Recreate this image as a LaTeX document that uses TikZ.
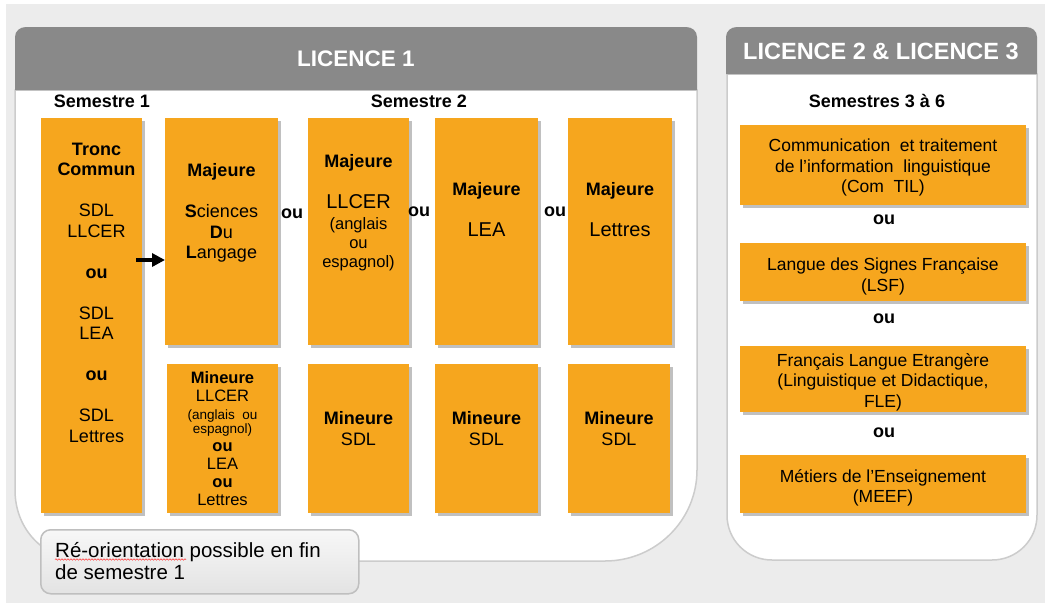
\documentclass[tikz,border=0pt]{standalone}
\usepackage{fontspec}
\setmainfont{Liberation Sans}
\usetikzlibrary{arrows.meta,shadows,decorations.pathmorphing}
\definecolor{orng}{RGB}{246,166,30}
\definecolor{hdrgray}{RGB}{137,137,137}
\definecolor{bggray}{RGB}{236,236,236}
\definecolor{rimgray}{RGB}{204,204,204}
\tikzset{
  orbox/.style={fill=orng, inner sep=0pt, anchor=north west,
    drop shadow={shadow xshift=2.5pt, shadow yshift=-2.5pt, opacity=.35, fill=black!70}},
  boxtxt/.style={inner sep=0pt, anchor=north, align=center, font=\fontsize{18}{20.5}\selectfont},
  oulbl/.style={inner sep=0pt, font=\fontsize{18}{20.5}\selectfont\bfseries},
  semlbl/.style={inner sep=0pt, font=\fontsize{18}{20}\selectfont\bfseries},
  hdrlbl/.style={inner sep=0pt, text=white, font=\fontsize{22.5}{24}\selectfont\bfseries},
  panelbody/.style={fill=white, draw=rimgray, line width=1.5pt},
  notebox/.style={draw=black!25, line width=1.5pt, rounded corners=10pt, top color=black!3,
    bottom color=black!11, inner sep=0pt, anchor=north west},
}
\begin{document}
\begin{tikzpicture}[x=1pt,y=-1pt]
\useasboundingbox (0,0) rectangle (1045,603);
\fill[white] (0,0) rectangle (1045,603);
\fill[bggray] (6,4) rectangle (1045,603);
% licence 1 panel
\filldraw[panelbody] (15,90) -- (15,490) .. controls (15,531) and (46,561) .. (86,561) -- (605,561)
  .. controls (656,561) and (697,520) .. (697,470) -- (697,90) -- cycle;
\fill[hdrgray] (15,90) -- (15,37) .. controls (15,31) and (20,27) .. (26,27) -- (686,27)
  .. controls (692,27) and (697,31) .. (697,37) -- (697,90) -- cycle;
\node[hdrlbl] (l1) at (356,59) {LICENCE 1};
% licence 2 & 3 panel
\filldraw[panelbody] (727,74) -- (727,515) .. controls (727,540) and (747,560) .. (772,560) -- (992,560)
  .. controls (1017,560) and (1037,540) .. (1037,515) -- (1037,74) -- cycle;
\fill[hdrgray] (726,74) -- (726,37) .. controls (726,31) and (731,27) .. (737,27) -- (1026,27)
  .. controls (1032,27) and (1037,31) .. (1037,37) -- (1037,74) -- cycle;
\node[hdrlbl, font=\fontsize{23.5}{25}\selectfont\bfseries] (l23) at (881,51) {LICENCE 2 \& LICENCE 3};
\node[semlbl] (sem1) at (102,101) {Semestre 1};
\node[semlbl] (sem2) at (419,101) {Semestre 2};
\node[semlbl] (sem36) at (877,101) {Semestres 3 à 6};
% boxes
\node[orbox, minimum width=101, minimum height=395] (tronc) at (41,118) {};
\node[orbox, minimum width=113, minimum height=227] (majsdl) at (165,118) {};
\node[orbox, minimum width=101, minimum height=227] (majllcer) at (308,118) {};
\node[orbox, minimum width=103, minimum height=227] (majlea) at (435,118) {};
\node[orbox, minimum width=104, minimum height=227] (majlet) at (568,118) {};
\node[orbox, minimum width=111, minimum height=149] (minllcer) at (167,364) {};
\node[orbox, minimum width=101, minimum height=149] (minsdla) at (308,364) {};
\node[orbox, minimum width=103, minimum height=149] (minsdlb) at (435,364) {};
\node[orbox, minimum width=102, minimum height=149] (minsdlc) at (568,364) {};
\node[orbox, minimum width=286, minimum height=80] (comtil) at (740,125) {};
\node[orbox, minimum width=286, minimum height=58] (lsf) at (740,243) {};
\node[orbox, minimum width=286, minimum height=66] (fle) at (740,346) {};
\node[orbox, minimum width=286, minimum height=58] (meef) at (740,455) {};
% box texts
\node[boxtxt] (troncT) at (96.5,142.5) {\textbf{Tronc}\\\textbf{Commun}\\[20.5pt]SDL\\LLCER\\[20.5pt]\textbf{ou}\\[20.5pt]SDL\\LEA\\[20.5pt]\textbf{ou}\\[20.5pt]SDL\\Lettres};
\node[boxtxt] (majsdlT) at (221.5,163.5) {\textbf{Majeure}\\[20.5pt]\textbf{S}ciences\\\textbf{D}u\\\textbf{L}angage};
\node[boxtxt] (majllcerT) at (358.5,154.5) {\textbf{Majeure}\\[20.5pt]{\fontsize{20}{20.5}\selectfont LLCER}\\{\fontsize{16.5}{19}\selectfont (anglais}\\[-1.5pt]{\fontsize{16.5}{19}\selectfont ou}\\[-1.5pt]{\fontsize{16.5}{19}\selectfont espagnol)}};
\node[boxtxt] (majleaT) at (486.5,182.5) {\textbf{Majeure}\\[20.5pt]{\fontsize{20}{20.5}\selectfont LEA}};
\node[boxtxt] (majletT) at (620,182.5) {\textbf{Majeure}\\[20.5pt]{\fontsize{20}{20.5}\selectfont Lettres}};
\node[boxtxt, font=\fontsize{16.5}{18}\selectfont] (minllcerT) at (222.5,371) {\textbf{Mineure}\\LLCER\\{\fontsize{13.5}{14}\selectfont (anglais~ ou}\\[-4pt]{\fontsize{13.5}{14}\selectfont espagnol)}\\\textbf{ou}\\LEA\\\textbf{ou}\\Lettres};
\node[boxtxt] (minsdlaT) at (358.5,411.5) {\textbf{Mineure}\\SDL};
\node[boxtxt] (minsdlbT) at (486.5,411.5) {\textbf{Mineure}\\SDL};
\node[boxtxt] (minsdlcT) at (619,411.5) {\textbf{Mineure}\\SDL};
\node[boxtxt, font=\fontsize{17.5}{20.5}\selectfont] (comtilT) at (883,138.7) {Communication~ et traitement\\de l’information~ linguistique\\(Com~ TIL)};
\node[boxtxt, font=\fontsize{17.5}{20.5}\selectfont] (lsfT) at (883,258) {Langue des Signes Française\\(LSF)};
\node[boxtxt, font=\fontsize{17.5}{20.5}\selectfont] (fleT) at (883,353) {Français Langue Etrangère\\(Linguistique et Didactique,\\FLE)};
\node[boxtxt, font=\fontsize{17.5}{20.5}\selectfont] (meefT) at (883,469) {Métiers de l’Enseignement\\(MEEF)};
% ou
\node[oulbl] (oua) at (292,214) {ou};
\node[oulbl] (oub) at (419,212) {ou};
\node[oulbl] (ouc) at (555,212) {ou};
\node[oulbl] (oud) at (884,220) {ou};
\node[oulbl] (oue) at (884,319) {ou};
\node[oulbl] (ouf) at (884,433) {ou};
% arrow
\coordinate (arrtail) at (136,260);
\draw[-{Triangle[length=13pt,width=13pt]}, line width=4.5pt] (arrtail) -- (majsdl.west |- arrtail);
% note
\node[notebox, minimum width=318, minimum height=64] (note) at (40,529) {};
\node[inner sep=0pt, anchor=north west, align=left, font=\fontsize{20.5}{22}\selectfont] (noteT) at (55,542) {Ré-orientation possible en fin\\de semestre 1};
\draw[red!75, line width=.6pt, decorate, decoration={snake, amplitude=.7pt, segment length=3pt}] (55,559.5) -- (186,559.5);
\end{tikzpicture}
\end{document}
